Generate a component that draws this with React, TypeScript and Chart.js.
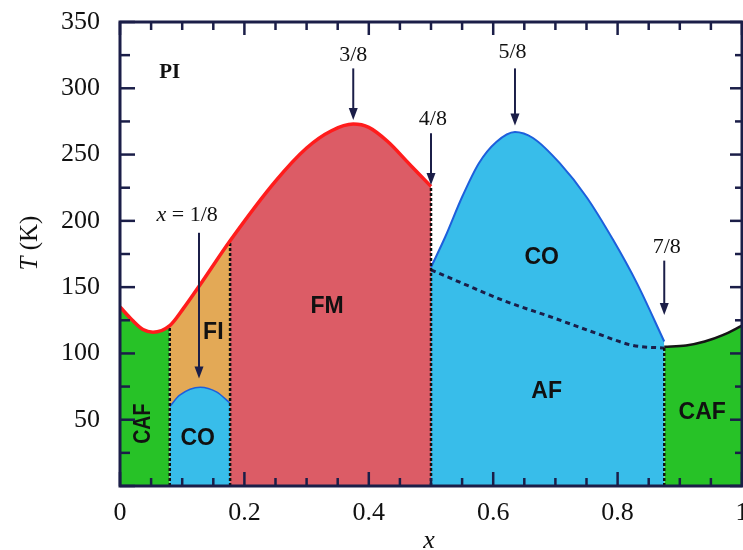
import React, { useEffect, useRef } from 'react';
import { Chart, registerables } from 'chart.js';

Chart.register(...registerables);

// ---- data (x = doping, T in K) ----
const redX = [0, 0.02, 0.037, 0.053, 0.08, 0.102, 0.129, 0.177, 0.25, 0.3, 0.34, 0.375, 0.4, 0.43, 0.465, 0.5];
const redT = [135, 125, 118, 116, 121, 134, 152, 185, 230, 255, 268, 273, 270.5, 260, 243, 226];
const coLeftX = [0.08, 0.096, 0.129, 0.155, 0.177];
const coLeftT = [60, 68.5, 74.5, 71, 62.5];
const coRightX = [0.5, 0.523, 0.55, 0.577, 0.605, 0.635, 0.664, 0.707, 0.75, 0.793, 0.831, 0.875];
const coRightT = [165, 188, 218, 243.5, 259.5, 267, 262.5, 243.5, 218, 185.5, 153, 109];
const afX = [0.5, 0.55, 0.616, 0.696, 0.767, 0.825, 0.875];
const afT = [163, 153, 140, 127, 115, 106, 104];
const cafRightX = [0.875, 0.91, 0.94, 0.97, 1];
const cafRightT = [105, 106, 109, 114, 121];
const boundaryX = [0.08, 0.177, 0.5, 0.875];
const boundaryT = [121, 185, 226, 105];

const xTickLabels = ['0', '0.2', '0.4', '0.6', '0.8', '1'];
const yTickLabels = ['', '50', '100', '150', '200', '250', '300', '350'];

const arrowX = [0.127, 0.375, 0.5, 0.635, 0.875];
const arrowFrom = [191, 315, 266, 315, 170];
const arrowTo = [81, 276, 227, 272, 129];

const fracText = ['3/8', '4/8', '5/8', '7/8'];
const fracX = [0.375, 0.503, 0.631, 0.879];
const fracT = [325, 277, 327, 180];

const phaseText = ['CAF', 'CO', 'FI', 'FM', 'CO', 'AF', 'CAF'];
const phaseX = [0.037, 0.125, 0.15, 0.333, 0.678, 0.686, 0.936];
const phaseT = [47, 36, 116, 135, 172, 71, 55];

const piText = 'PI';
const piX = 0.08;
const piT = 312;

const eighthX = 0.108;
const eighthT = 204;

// ---- styles ----
const GREEN = '#27c227';
const ORANGE = '#e3a956';
const PINK = '#dc5c66';
const BLUE = '#38bdea';
const RED_LINE = '#ff1c1c';
const BLUE_LINE = '#1d5fdc';
const DARK = '#1b1e48';
const SERIF = '"Liberation Serif", "Times New Roman", serif';
const SANS = '"Liberation Sans", Arial, sans-serif';

const pts = (xs: number[], ys: number[]) => xs.map((x, i) => ({ x, y: ys[i] }));
const redPts = pts(redX, redT);
const redRange = (a: number, b: number) => redPts.filter((p) => p.x >= a - 1e-9 && p.x <= b + 1e-9);

function drawFrame(chart: any) {
  const { ctx, chartArea } = chart;
  const xs = chart.scales.x;
  const ys = chart.scales.y;
  const { left, right, top, bottom } = chartArea;
  ctx.save();
  ctx.setLineDash([]);
  ctx.strokeStyle = DARK;
  ctx.lineCap = 'butt';
  ctx.lineWidth = 2.5;
  for (let i = 0; i <= 20; i++) {
    const px = xs.getPixelForValue(i / 20);
    const major = i % 4 === 0;
    const lb = major ? 14 : 8;
    const lt = major ? 13 : 8;
    ctx.beginPath();
    ctx.moveTo(px, bottom);
    ctx.lineTo(px, bottom - lb);
    ctx.stroke();
    ctx.beginPath();
    ctx.moveTo(px, top);
    ctx.lineTo(px, top + lt);
    ctx.stroke();
  }
  for (let i = 0; i <= 14; i++) {
    const py = ys.getPixelForValue(i * 25);
    const major = i % 2 === 0;
    const ll = major ? 15 : 10;
    const lr = major ? 12 : 7;
    ctx.beginPath();
    ctx.moveTo(left, py);
    ctx.lineTo(left + ll, py);
    ctx.stroke();
    ctx.beginPath();
    ctx.moveTo(right, py);
    ctx.lineTo(right - lr, py);
    ctx.stroke();
  }
  ctx.lineWidth = 3;
  ctx.strokeRect(left, top, right - left, bottom - top);
  // axis titles
  ctx.fillStyle = '#111';
  ctx.textBaseline = 'middle';
  ctx.textAlign = 'center';
  ctx.font = `italic 26px ${SERIF}`;
  ctx.fillText('x', xs.getPixelForValue(0.5) - 2, 541);
  ctx.save();
  ctx.translate(30, 243);
  ctx.rotate(-Math.PI / 2);
  ctx.font = `italic 25px ${SERIF}`;
  const wT = ctx.measureText('T').width;
  ctx.font = `25px ${SERIF}`;
  const wK = ctx.measureText(' (K)').width;
  const s = -(wT + wK) / 2;
  ctx.textAlign = 'left';
  ctx.font = `italic 25px ${SERIF}`;
  ctx.fillText('T', s, 0);
  ctx.font = `25px ${SERIF}`;
  ctx.fillText(' (K)', s + wT, 0);
  ctx.restore();
  ctx.restore();
}

const decorPlugin = {
  id: 'phaseDecor',
  afterDatasetsDraw(chart: any) {
    const { ctx } = chart;
    const xs = chart.scales.x;
    const ys = chart.scales.y;
    ctx.save();
    ctx.setLineDash([]);
    // arrows
    arrowX.forEach((ax, i) => {
      const px = xs.getPixelForValue(ax);
      const p0 = ys.getPixelForValue(arrowFrom[i]);
      const p1 = ys.getPixelForValue(arrowTo[i]);
      ctx.strokeStyle = DARK;
      ctx.fillStyle = DARK;
      ctx.lineWidth = 2;
      ctx.beginPath();
      ctx.moveTo(px, p0);
      ctx.lineTo(px, p1 - 9);
      ctx.stroke();
      ctx.beginPath();
      ctx.moveTo(px - 4.5, p1 - 12);
      ctx.lineTo(px + 4.5, p1 - 12);
      ctx.lineTo(px, p1);
      ctx.closePath();
      ctx.fill();
    });
    // fraction labels
    ctx.fillStyle = '#111';
    ctx.textAlign = 'center';
    ctx.textBaseline = 'middle';
    ctx.font = `22px ${SERIF}`;
    fracText.forEach((t, i) => {
      ctx.fillText(t, xs.getPixelForValue(fracX[i]), ys.getPixelForValue(fracT[i]));
    });
    // x = 1/8
    {
      const cx = xs.getPixelForValue(eighthX);
      const cy = ys.getPixelForValue(eighthT);
      ctx.font = `italic 22px ${SERIF}`;
      const w1 = ctx.measureText('x').width;
      ctx.font = `22px ${SERIF}`;
      const rest = ' = 1/8';
      const w2 = ctx.measureText(rest).width;
      const start = cx - (w1 + w2) / 2;
      ctx.textAlign = 'left';
      ctx.font = `italic 22px ${SERIF}`;
      ctx.fillText('x', start, cy);
      ctx.font = `22px ${SERIF}`;
      ctx.fillText(rest, start + w1, cy);
    }
    // PI
    ctx.textAlign = 'center';
    ctx.font = `bold 21px ${SERIF}`;
    ctx.fillText(piText, xs.getPixelForValue(piX), ys.getPixelForValue(piT));
    // phase labels
    ctx.font = `bold 23px ${SANS}`;
    phaseText.forEach((t, i) => {
      const px = xs.getPixelForValue(phaseX[i]);
      const py = ys.getPixelForValue(phaseT[i]);
      if (i === 0) {
        ctx.save();
        ctx.translate(px, py);
        ctx.rotate(-Math.PI / 2);
        ctx.scale(0.85, 1.05);
        ctx.fillText(t, 0, 0);
        ctx.restore();
      } else {
        ctx.fillText(t, px, py);
      }
    });
    ctx.restore();
    drawFrame(chart);
  },
};

export default function App() {
  const ref = useRef<HTMLCanvasElement | null>(null);
  useEffect(() => {
    if (!ref.current) return;
    const fillDs = (data: any[], bg: string, border: string, bw: number) => ({
      data,
      fill: 'origin',
      backgroundColor: bg,
      borderColor: border,
      borderWidth: bw,
      pointRadius: 0,
      cubicInterpolationMode: 'monotone',
      tension: 0.4,
    });
    const lineDs = (data: any[], color: string, bw: number, dash: number[], smooth: boolean) => ({
      data,
      fill: false,
      borderColor: color,
      borderWidth: bw,
      borderDash: dash,
      pointRadius: 0,
      cubicInterpolationMode: smooth ? 'monotone' : 'default',
      tension: smooth ? 0.4 : 0,
    });
    // bottom -> top
    const layers: any[] = [
      fillDs(redRange(0, 0.08), GREEN, 'rgba(0,0,0,0)', 0),
      fillDs(redRange(0.08, 0.177), ORANGE, 'rgba(0,0,0,0)', 0),
      fillDs(redRange(0.177, 0.5), PINK, 'rgba(0,0,0,0)', 0),
      fillDs(pts(coLeftX, coLeftT), BLUE, BLUE_LINE, 1.5),
      fillDs(pts(coRightX, coRightT), BLUE, BLUE_LINE, 2),
      fillDs(pts(cafRightX, cafRightT), GREEN, '#151515', 2.5),
      lineDs(pts(afX, afT), DARK, 3, [5, 4], true),
      ...boundaryX.map((bx, i) =>
        lineDs([{ x: bx, y: 0 }, { x: bx, y: boundaryT[i] }], '#111', 2.5, [3, 2], false)
      ),
      lineDs(redPts, RED_LINE, 3.5, [], true),
    ];
    const n = layers.length;
    layers.forEach((d, i) => (d.order = n - i));

    const chart = new Chart(ref.current, {
      type: 'line',
      data: { datasets: layers },
      options: {
        animation: false,
        responsive: false,
        devicePixelRatio: 1,
        layout: { padding: { top: 22, right: 1, left: 0, bottom: 0 } },
        plugins: { legend: { display: false }, tooltip: { enabled: false } },
        scales: {
          x: {
            type: 'linear',
            min: 0,
            max: 1,
            grid: { display: false, drawTicks: false },
            border: { display: false },
            ticks: {
              stepSize: 0.2,
              maxRotation: 0,
              autoSkip: false,
              padding: 12,
              color: '#111',
              font: { family: SERIF, size: 26 },
              callback: (v: any) => xTickLabels[Math.round(Number(v) / 0.2)] ?? '',
            },
            afterFit: (s: any) => {
              s.height = 64;
              s.paddingLeft = 0;
              s.paddingRight = 0;
            },
          },
          y: {
            type: 'linear',
            min: 0,
            max: 350,
            grid: { display: false, drawTicks: false },
            border: { display: false },
            ticks: {
              stepSize: 50,
              padding: 20,
              color: '#111',
              font: { family: SERIF, size: 26 },
              callback: (v: any) => yTickLabels[Math.round(Number(v) / 50)] ?? '',
            },
            afterFit: (s: any) => {
              s.width = 120;
              s.paddingTop = 0;
              s.paddingBottom = 0;
            },
          },
        },
      },
      plugins: [decorPlugin],
    } as any);
    return () => chart.destroy();
  }, []);
  return (
    <div style={{ position: 'absolute', left: 0, top: 0, width: 743, height: 550, background: '#fff' }}>
      <canvas ref={ref} width={743} height={550} style={{ display: 'block' }} />
    </div>
  );
}
